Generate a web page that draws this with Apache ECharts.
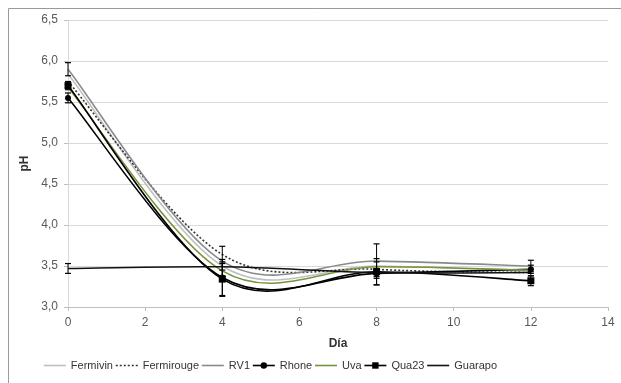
<!DOCTYPE html>
<html><head><meta charset="utf-8">
<script src="https://cdn.jsdelivr.net/npm/echarts@6/dist/echarts.min.js"></script>
<style>html,body{margin:0;padding:0;background:#fff}#c{width:621px;height:383px}</style>
</head><body><div id="c"></div>
<script>
var days = [0, 4, 8, 12];
var xTicks = [0, 2, 4, 6, 8, 10, 12, 14];
var yTicks = [3.0, 3.5, 4.0, 4.5, 5.0, 5.5, 6.0, 6.5];
var fermivin   = [5.84, 3.50, 3.50, 3.44];
var fermirouge = [5.75, 3.64, 3.46, 3.42];
var rv1        = [5.90, 3.56, 3.56, 3.50];
var rhone      = [5.55, 3.36, 3.41, 3.46];
var uva        = [5.68, 3.44, 3.49, 3.45];
var qua23      = [5.70, 3.34, 3.43, 3.32];
var guarapo    = [3.47, 3.49, 3.42, 3.42];
var rv1Err     = [0.08, 0.18, 0.21, 0.07];
var rhoneErr   = [0.06, 0.22, 0.14, 0.05];
var qua23Err   = [0.05, 0.21, 0.16, 0.06];
var guarapoErr = [0.06, 0.04, 0.05, 0.04];

function pts(v){ return days.map(function(d,i){ return [d, v[i]]; }); }
function errs(v,e){ return days.map(function(d,i){ return [d, v[i]-e[i], v[i]+e[i]]; }); }
var errData = [].concat(errs(rv1,rv1Err), errs(rhone,rhoneErr), errs(qua23,qua23Err), errs(guarapo,guarapoErr));

var chart = echarts.init(document.getElementById('c'), null, {renderer:'canvas'});

// Excel-style smoothed curve (Catmull-Rom / Bezier, tension 1/6) through the axis scale
function curveSeries(vals, color, width, dash){
  return {type:'custom', silent:true, z:3, data:[[days[0], vals[0]]], encode:{x:0,y:1},
    renderItem:function(params, api){
      var P = days.map(function(d,i){ return api.coord([d, vals[i]]); });
      var n = P.length, path = 'M' + P[0][0] + ' ' + P[0][1];
      for (var i=0;i<n-1;i++){
        var p0 = P[Math.max(i-1,0)], p1 = P[i], p2 = P[i+1], p3 = P[Math.min(i+2,n-1)];
        var c1 = [p1[0]+(p2[0]-p0[0])/6, p1[1]+(p2[1]-p0[1])/6];
        var c2 = [p2[0]-(p3[0]-p1[0])/6, p2[1]-(p3[1]-p1[1])/6];
        path += ' C' + c1[0]+' '+c1[1]+' '+c2[0]+' '+c2[1]+' '+p2[0]+' '+p2[1];
      }
      return {type:'path', shape:{pathData:path}, style:{fill:null, stroke:color, lineWidth:width, lineDash:dash||null}};
    }};
}
var styles = {
  Fermivin:  {vals:fermivin,  color:'#c0c0c0', dash:null},
  Fermirouge:{vals:fermirouge,color:'#333333', dash:[2,2]},
  RV1:       {vals:rv1,       color:'#8a8a8a', dash:null},
  Rhone:     {vals:rhone,     color:'#000000', dash:null, symbol:'circle', size:6},
  Uva:       {vals:uva,       color:'#77933c', dash:null},
  Qua23:     {vals:qua23,     color:'#000000', dash:null, symbol:'rect', size:7},
  Guarapo:   {vals:guarapo,   color:'#111111', dash:null}
};
var names = ['Fermivin','Fermirouge','RV1','Rhone','Uva','Qua23','Guarapo'];
var series = [];
var legendData = [];
names.forEach(function(nm){
  var s = styles[nm];
  series.push(curveSeries(s.vals, s.color, 1.6, s.dash));
  series.push({name:nm, type:'line', data:pts(s.vals), z:4,
    lineStyle:{opacity:0}, itemStyle:{color:s.color},
    symbol:s.symbol||'none', symbolSize:s.size||6, showSymbol:!!s.symbol});
  legendData.push({name:nm,
    lineStyle:{color:s.color, width:1.6, opacity:1, type:s.dash?[2,2]:'solid'},
    itemStyle:s.symbol?{color:s.color}:{opacity:0}});
});
series.push({type:'custom', name:'err', z:5, data:errData, encode:{x:0, y:[1,2]},
  renderItem:function(params, api){
    var x = api.value(0);
    var lo = api.coord([x, api.value(1)]);
    var hi = api.coord([x, api.value(2)]);
    var w = 3;
    return {type:'group', children:[
      {type:'line', shape:{x1:lo[0],y1:lo[1],x2:hi[0],y2:hi[1]}, style:{stroke:'#000', lineWidth:1}},
      {type:'line', shape:{x1:lo[0]-w,y1:lo[1],x2:lo[0]+w,y2:lo[1]}, style:{stroke:'#000', lineWidth:1.2}},
      {type:'line', shape:{x1:hi[0]-w,y1:hi[1],x2:hi[0]+w,y2:hi[1]}, style:{stroke:'#000', lineWidth:1.2}}
    ]};
  }});

chart.setOption({
  animation:false,
  textStyle:{fontFamily:'Liberation Sans, Arial, sans-serif'},
  grid:{left:68, right:13, top:20, bottom:76},
  graphic:[
    {type:'line', shape:{x1:8.5,y1:8.5,x2:621,y2:8.5}, style:{stroke:'#9a9a9a', lineWidth:1}},
    {type:'line', shape:{x1:8.5,y1:8.5,x2:8.5,y2:383}, style:{stroke:'#9a9a9a', lineWidth:1}}
  ],
  xAxis:{type:'value', min:0, max:14, interval:2, name:'Día', nameLocation:'middle', nameGap:31,
    nameTextStyle:{fontWeight:'bold', fontSize:12, color:'#333'},
    axisLine:{show:true, lineStyle:{color:'#bfbfbf'}}, axisTick:{show:true, length:4, lineStyle:{color:'#bfbfbf'}},
    axisLabel:{color:'#595959', fontSize:12, margin:10, formatter:function(v){return xTicks.indexOf(v)>=0?String(v):'';}},
    splitLine:{show:false}},
  yAxis:{type:'value', min:3, max:6.5, interval:0.5, name:'pH', nameLocation:'middle', nameGap:32, nameRotate:90,
    nameTextStyle:{fontWeight:'bold', fontSize:12, color:'#333'},
    axisLine:{show:true, lineStyle:{color:'#d9d9d9'}}, axisTick:{show:true, length:4, lineStyle:{color:'#bfbfbf'}},
    axisLabel:{color:'#595959', fontSize:12, margin:10, formatter:function(v){
      var t = yTicks.filter(function(y){return Math.abs(y-v)<1e-6;})[0];
      return t===undefined?'':t.toFixed(1).replace('.',',');}},
    splitLine:{show:true, lineStyle:{color:'#d9d9d9', width:1}}},
  legend:{bottom:7, left:38, itemWidth:22, itemHeight:8, itemGap:2,
    textStyle:{color:'#333', fontSize:11},
    data:legendData},
  series:series
});
</script></body></html>
